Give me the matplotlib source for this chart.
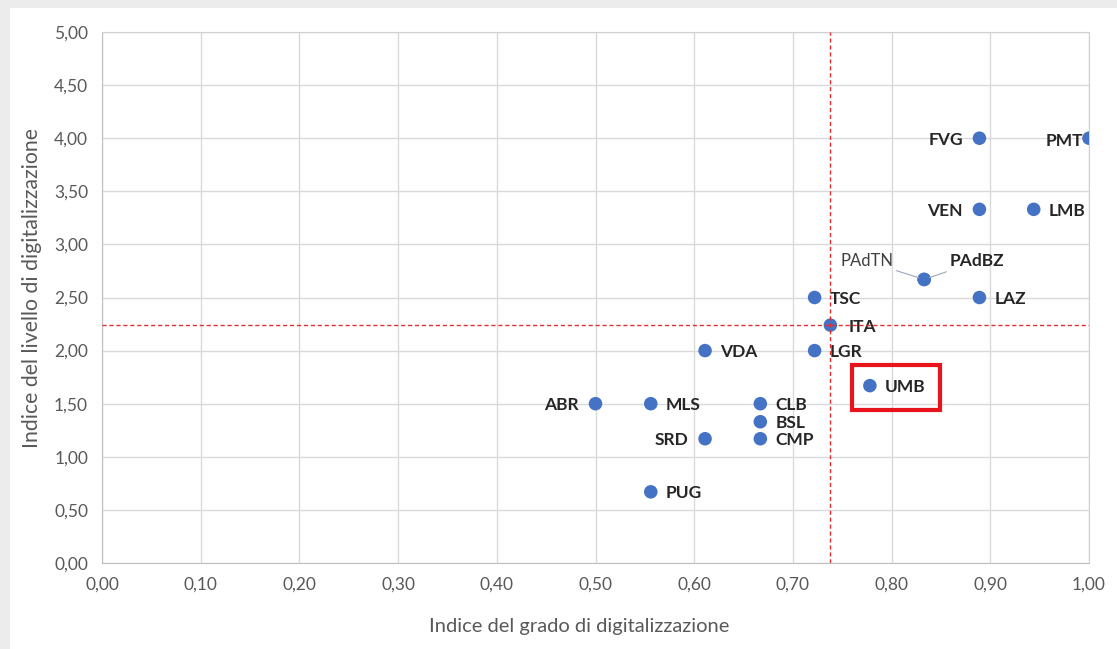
import matplotlib.pyplot as plt
from matplotlib.patches import Rectangle
from matplotlib.ticker import FuncFormatter

plt.rcParams['font.family'] = ['Lato', 'DejaVu Sans']

# regioni: indice grado (x) e indice livello (y) di digitalizzazione
regioni = ['PMT', 'FVG', 'VEN', 'LMB', 'PAdTN', 'PAdBZ', 'LAZ', 'TSC', 'ITA', 'VDA',
           'LGR', 'UMB', 'ABR', 'MLS', 'CLB', 'BSL', 'CMP', 'SRD', 'PUG']
grado = [1.00, 0.889, 0.889, 0.944, 0.833, 0.833, 0.889, 0.722, 0.738, 0.611,
         0.722, 0.778, 0.50, 0.556, 0.667, 0.667, 0.667, 0.611, 0.556]
livello = [4.00, 4.00, 3.33, 3.33, 2.67, 2.67, 2.50, 2.50, 2.24, 2.00,
           2.00, 1.67, 1.50, 1.50, 1.50, 1.33, 1.17, 1.17, 0.67]

media_grado = 0.738
media_livello = 2.24

# etichette a sinistra del punto
sinistra = ['PMT', 'FVG', 'VEN', 'ABR', 'SRD']

fig = plt.figure(figsize=(11.17, 6.49), dpi=100)
fig.patch.set_facecolor('#ececec')
fig.add_artist(Rectangle((10 / 1117, 0), 1, 1 - 8 / 649, transform=fig.transFigure,
                         facecolor='white', edgecolor='none', zorder=0))

ax = fig.add_axes([102 / 1117, 1 - 563 / 649, 987 / 1117, 531 / 649])
ax.set_facecolor('white')

ax.scatter(grado, livello, s=95, color='#4472C4', zorder=3, edgecolors='none')

ax.axvline(media_grado, color='#e03030', linestyle=(0, (3, 2)), lw=1, zorder=4)
ax.axhline(media_livello, color='#e03030', linestyle=(0, (3, 2)), lw=1, zorder=4)

for nome, x, y in zip(regioni, grado, livello):
    if nome == 'PAdTN':
        ax.annotate(nome, (x, y), xytext=(-22, 13), textcoords='offset points',
                    ha='right', va='center', fontsize=12, color='#404040',
                    arrowprops=dict(arrowstyle='-', color='#9aa5bf', lw=0.8,
                                    shrinkA=0, shrinkB=4))
    elif nome == 'PAdBZ':
        ax.annotate(nome, (x, y), xytext=(18, 13), textcoords='offset points',
                    ha='left', va='center', fontsize=12.5, fontweight='bold', color='#262626',
                    arrowprops=dict(arrowstyle='-', color='#9aa5bf', lw=0.8,
                                    shrinkA=0, shrinkB=4))
    elif nome == 'PMT':
        ax.annotate(nome, (x, y), xytext=(-4, -2), textcoords='offset points',
                    ha='right', va='center', fontsize=12.5, fontweight='bold', color='#262626')
    elif nome in sinistra:
        ax.annotate(nome, (x, y), xytext=(-12, -1), textcoords='offset points',
                    ha='right', va='center', fontsize=12.5, fontweight='bold', color='#262626')
    elif nome == 'ITA':
        ax.annotate(nome, (x, y), xytext=(13, -1), textcoords='offset points',
                    ha='left', va='center', fontsize=12.5, fontweight='bold', color='#262626')
    else:
        ax.annotate(nome, (x, y), xytext=(11, -1), textcoords='offset points',
                    ha='left', va='center', fontsize=12.5, fontweight='bold', color='#262626')

# riquadro rosso attorno a UMB
i = regioni.index('UMB')
ax.add_patch(Rectangle((grado[i] - 0.018, livello[i] - 0.23), 0.089, 0.42,
                       fill=False, edgecolor='#e8141c', lw=3, zorder=5))

ax.set_xlim(0, 1)
ax.set_ylim(0, 5)
ax.set_xticks([k / 10 for k in range(11)])
ax.set_yticks([k / 2 for k in range(11)])
fmt = FuncFormatter(lambda v, p: f'{v:.2f}'.replace('.', ','))
ax.xaxis.set_major_formatter(fmt)
ax.yaxis.set_major_formatter(fmt)
ax.tick_params(length=0, labelsize=12.5, labelcolor='#595959', pad=10)
ax.grid(True, color='#d9d9d9', lw=1)
ax.set_axisbelow(True)
for s in ax.spines.values():
    s.set_color('#d0d0d0')
ax.spines['left'].set_color('#bfbfbf')
ax.spines['bottom'].set_color('#bfbfbf')

ax.set_xlabel('Indice del grado di digitalizzazione', fontsize=14.5, color='#595959')
ax.set_ylabel('Indice del livello di digitalizzazione', fontsize=15.3, color='#595959')
ax.xaxis.set_label_coords(0.483, -0.103)
ax.yaxis.set_label_coords(-0.061, 0.518)

fig.savefig('out.png', dpi=100)
